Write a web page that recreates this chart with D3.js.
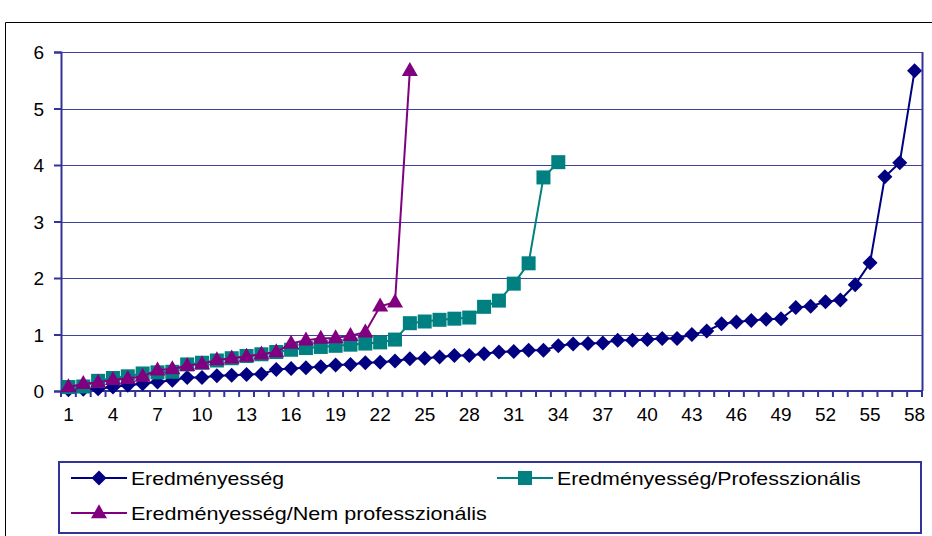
<!DOCTYPE html>
<html><head><meta charset="utf-8">
<script src="https://cdn.jsdelivr.net/npm/d3@7"></script>
<style>body{margin:0;background:#fff}svg{display:block}text{font-family:"Liberation Sans",Arial,sans-serif}</style>
</head><body><svg id="c" width="932" height="536"></svg>
<script>
const categories = d3.range(1, 59);
const tickLabels = [1,4,7,10,13,16,19,22,25,28,31,34,37,40,43,46,49,52,55,58];
const yTicks = [0,1,2,3,4,5,6];
const seriesNames = ["Eredményesség","Eredményesség/Professzionális","Eredményesség/Nem professzionális"];
const eredmenyesseg = [0.02,0.03,0.04,0.07,0.1,0.13,0.16,0.19,0.24,0.24,0.27,0.28,0.29,0.3,0.38,0.4,0.41,0.43,0.46,0.47,0.5,0.51,0.53,0.57,0.58,0.6,0.63,0.63,0.66,0.69,0.7,0.72,0.72,0.8,0.83,0.84,0.85,0.9,0.9,0.91,0.93,0.93,1.0,1.06,1.19,1.22,1.25,1.27,1.28,1.48,1.5,1.58,1.61,1.88,2.27,3.79,4.04,5.67];
const professzionalis = [0.07,0.08,0.18,0.23,0.26,0.31,0.33,0.34,0.47,0.5,0.54,0.58,0.62,0.65,0.69,0.73,0.76,0.78,0.8,0.82,0.84,0.86,0.91,1.2,1.23,1.26,1.28,1.3,1.49,1.6,1.9,2.26,3.78,4.05];
const nemProfesszionalis = [0.07,0.13,0.15,0.2,0.22,0.26,0.37,0.39,0.45,0.48,0.55,0.58,0.61,0.65,0.69,0.84,0.9,0.93,0.94,0.98,1.04,1.5,1.57,5.67];

const svg = d3.select("#c");
const L = 61, R = 922, T = 52, B = 391;
const x = d3.scaleBand().domain(categories).range([L, R]);
const y = d3.scaleLinear().domain([0, 6]).range([B, T]);
const navy = "#000080";
const axisCol = "#333399";

// outer chart border
svg.append("path").attr("d","M5.5,540 V22.5 H940").attr("fill","none").attr("stroke","#000").attr("stroke-width",1);

// gridlines
svg.append("g").selectAll("line").data(yTicks.filter(d=>d>0)).join("line")
  .attr("x1",L).attr("x2",R).attr("y1",d=>Math.round(y(d))+0.5).attr("y2",d=>Math.round(y(d))+0.5)
  .attr("stroke",navy).attr("stroke-width",1).attr("stroke-opacity",0.75);
// plot frame right edge
svg.append("line").attr("x1",R+0.5).attr("x2",R+0.5).attr("y1",T).attr("y2",B).attr("stroke",axisCol).attr("stroke-width",2);

// y axis
const yAxis = d3.axisLeft(y).tickValues(yTicks).tickSize(7).tickPadding(10).tickFormat(d3.format("d"));
const gy = svg.append("g").attr("transform",`translate(${L},0)`).call(yAxis);
gy.select(".domain").attr("stroke",axisCol).attr("stroke-width",2);
gy.selectAll(".tick line").attr("stroke",axisCol).attr("stroke-width",2);
gy.selectAll("text").attr("font-size",19).attr("fill","#000").attr("dy","0.36em");

// x axis
const gx = svg.append("g").attr("transform",`translate(0,${B})`);
gx.append("line").attr("x1",L).attr("x2",R).attr("y1",0).attr("y2",0).attr("stroke",axisCol).attr("stroke-width",2);
const boundaries = categories.map(c=>x(c)).concat([R]);
gx.selectAll("line.t").data(boundaries).join("line").attr("class","t")
  .attr("x1",d=>d).attr("x2",d=>d).attr("y1",0).attr("y2",6).attr("stroke",axisCol).attr("stroke-width",2);
gx.selectAll("text").data(tickLabels).join("text")
  .attr("x",d=>x(d)+x.bandwidth()/2).attr("y",30).attr("text-anchor","middle")
  .attr("font-size",19).attr("fill","#000").text(d=>d);

const cx = i => x(categories[i]) + x.bandwidth()/2;
const line = d3.line().x((d,i)=>cx(i)).y(d=>y(d));

function drawMarker(g, type, color, px, py){
  if(type==="diamond"){
    const s=7.5;
    g.append("path").attr("d",`M${px},${py-s}L${px+s},${py}L${px},${py+s}L${px-s},${py}Z`).attr("fill",color);
  } else if(type==="square"){
    const s=7;
    g.append("rect").attr("x",px-s).attr("y",py-s).attr("width",2*s).attr("height",2*s).attr("fill",color);
  } else {
    const w=8,h=14;
    g.append("path").attr("d",`M${px},${py-h*0.62}L${px+w},${py+h*0.38}L${px-w},${py+h*0.38}Z`).attr("fill",color);
  }
}

const series = [
  {name:seriesNames[0], data:eredmenyesseg, color:"#000080", marker:"diamond"},
  {name:seriesNames[1], data:professzionalis, color:"#008080", marker:"square"},
  {name:seriesNames[2], data:nemProfesszionalis, color:"#800080", marker:"triangle"}
];
series.forEach(s=>{
  const g = svg.append("g");
  g.append("path").attr("d",line(s.data)).attr("fill","none").attr("stroke",s.color).attr("stroke-width",2);
  s.data.forEach((v,i)=>drawMarker(g,s.marker,s.color,cx(i),y(v)));
});

// legend
const lg = svg.append("g");
lg.append("rect").attr("x",59).attr("y",462).attr("width",862).attr("height",71).attr("fill","none").attr("stroke",axisCol).attr("stroke-width",2);
const legPos = [[71,478],[497,478],[71,513]];
const legLen = [153, 304, 356];
series.forEach((s,i)=>{
  const [lx,ly]=legPos[i];
  lg.append("line").attr("x1",lx).attr("x2",lx+56).attr("y1",ly).attr("y2",ly).attr("stroke",s.color).attr("stroke-width",2);
  drawMarker(lg,s.marker,s.color,lx+28,ly);
  const t = lg.append("text").attr("x",0).attr("y",0).attr("font-size",18.5).attr("fill","#000").text(s.name);
  const w = t.node().getComputedTextLength();
  const sx = legLen[i]/w;
  t.attr("transform",`translate(${lx+60},${ly+6.5}) scale(${sx},1)`);
});
</script></body></html>
